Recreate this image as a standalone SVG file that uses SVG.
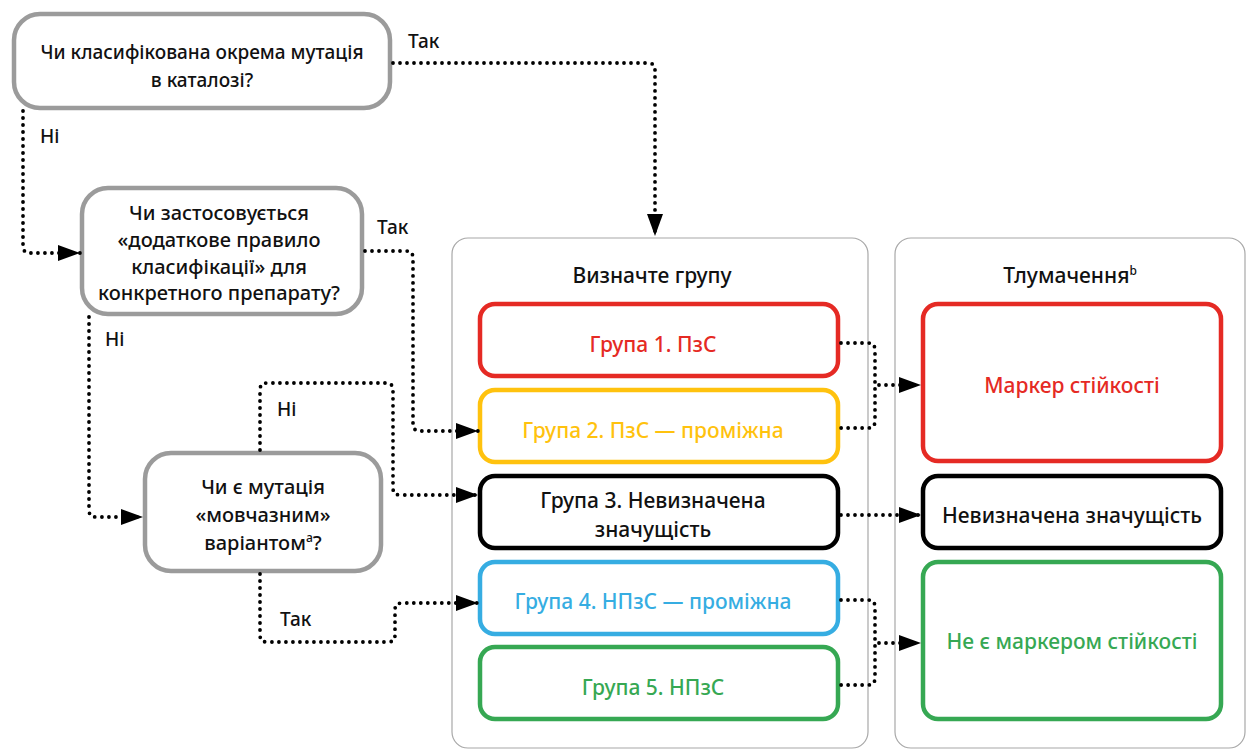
<svg xmlns="http://www.w3.org/2000/svg" width="1247" height="749" viewBox="0 0 1247 749">
<defs>
<marker id="arr" markerUnits="userSpaceOnUse" markerWidth="22" markerHeight="16" refX="22" refY="8" orient="auto">
<path d="M0,0 L22,8 L0,16 z" fill="#000"/>
</marker>
<style>
text{font-family:"Noto Sans","Open Sans","DejaVu Sans",sans-serif;font-size:21px;font-weight:500;text-anchor:middle;fill:#111}
.qt{font-size:20px}
.q1t{font-size:19px}
.q{fill:#fff;stroke:#9b9b9b;stroke-width:4.5}
.panel{fill:#fff;stroke:#a8a8a8;stroke-width:1.2}
.g{fill:#fff;stroke-width:4.5}
.c{fill:none;stroke:#000;stroke-width:3.8;stroke-linecap:round;stroke-dasharray:0 7}
.lab{text-anchor:start;font-size:19px}
</style>
</defs>
<rect width="1247" height="749" fill="#fff"/>
<g id="panel-group">
<rect class="panel" x="452" y="238" width="416" height="510" rx="16"/>
<text x="652" y="283">Визначте групу</text>
</g>
<g id="panel-interp">
<rect class="panel" x="895" y="238" width="350" height="510" rx="16"/>
<text x="1070" y="283">Тлумачення<tspan font-size="12" dy="-8">b</tspan></text>
</g>
<g id="q1">
<rect class="q" x="14" y="14" width="376" height="94" rx="26"/>
<text class="q1t" x="202" y="59">Чи класифікована окрема мутація</text>
<text class="q1t" x="202" y="87">в каталозі?</text>
</g>
<g id="q2">
<rect class="q" x="82" y="188" width="280" height="126" rx="26"/>
<text class="qt" x="219" y="220">Чи застосовується</text>
<text class="qt" x="219" y="247">«додаткове правило</text>
<text class="qt" x="219" y="274">класифікації» для</text>
<text class="qt" x="219" y="300">конкретного препарату?</text>
</g>
<g id="q3">
<rect class="q" x="145" y="453" width="236" height="118" rx="26"/>
<text class="qt" x="263" y="494">Чи є мутація</text>
<text class="qt" x="263" y="522">«мовчазним»</text>
<text class="qt" x="263" y="550">варіантом<tspan font-size="12" dy="-8">a</tspan><tspan dy="8">?</tspan></text>
</g>
<g id="g1">
<rect class="g" x="480" y="304" width="358" height="72" rx="15" stroke="#e52a24"/>
<text x="653" y="352" style="fill:#e52a24">Група 1. ПзС</text>
</g>
<g id="g2">
<rect class="g" x="480" y="390" width="358" height="72" rx="15" stroke="#ffc20e"/>
<text x="653" y="438" style="fill:#ffc20e">Група 2. ПзС — проміжна</text>
</g>
<g id="g3">
<rect class="g" x="480" y="476" width="358" height="72" rx="15" stroke="#000"/>
<text x="653" y="508">Група 3. Невизначена</text>
<text x="653" y="537">значущість</text>
</g>
<g id="g4">
<rect class="g" x="480" y="562" width="358" height="72" rx="15" stroke="#36ade2"/>
<text x="653" y="609" style="fill:#36ade2">Група 4. НПзС — проміжна</text>
</g>
<g id="g5">
<rect class="g" x="480" y="647" width="358" height="72" rx="15" stroke="#36a853"/>
<text x="653" y="695" style="fill:#36a853">Група 5. НПзС</text>
</g>
<g id="r1">
<rect class="g" x="923" y="304" width="298" height="157" rx="15" stroke="#e52a24"/>
<text x="1072" y="393" style="fill:#e52a24">Маркер стійкості</text>
</g>
<g id="r2">
<rect class="g" x="923" y="476" width="298" height="72" rx="15" stroke="#000"/>
<text x="1072" y="523">Невизначена значущість</text>
</g>
<g id="r3">
<rect class="g" x="923" y="562" width="298" height="157" rx="15" stroke="#36a853"/>
<text x="1072" y="649" style="fill:#36a853">Не є маркером стійкості</text>
</g>
<g id="connectors">
<path class="c" d="M393,63 H648 Q655,63 655,70 V236" marker-end="url(#arr)"/>
<path class="c" d="M23,111 V246 Q23,253 30,253 H80" marker-end="url(#arr)"/>
<path class="c" d="M365,251 H406 Q413,251 413,258 V424 Q413,431 420,431 H478" marker-end="url(#arr)"/>
<path class="c" d="M89,317 V510 Q89,517 96,517 H143" marker-end="url(#arr)"/>
<path class="c" d="M260,450 V390 Q260,383 267,383 H386 Q393,383 393,390 V488 Q393,495 400,495 H478" marker-end="url(#arr)"/>
<path class="c" d="M260,574 V635 Q260,642 267,642 H388 Q395,642 395,635 V610 Q395,603 402,603 H478" marker-end="url(#arr)"/>
<path class="c" d="M841,343 H868 Q875,343 875,350 V421 Q875,428 868,428 H841"/>
<path class="c" d="M879,385 H921" marker-end="url(#arr)"/>
<path class="c" d="M841,515 H921" marker-end="url(#arr)"/>
<path class="c" d="M841,600 H868 Q875,600 875,607 V678 Q875,685 868,685 H841"/>
<path class="c" d="M879,643 H921" marker-end="url(#arr)"/>
<text class="lab" x="408" y="48">Так</text>
<text class="lab" x="40" y="143">Ні</text>
<text class="lab" x="377" y="234">Так</text>
<text class="lab" x="105" y="346">Ні</text>
<text class="lab" x="277" y="416">Ні</text>
<text class="lab" x="280" y="626">Так</text>
</g>
</svg>
